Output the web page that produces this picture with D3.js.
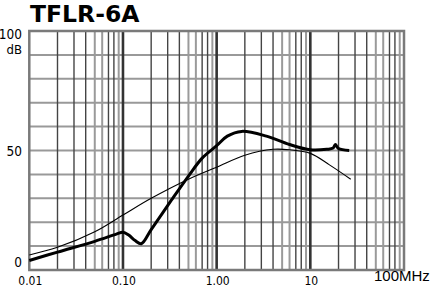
<!DOCTYPE html>
<html>
<head>
<meta charset="utf-8">
<script src="https://cdn.jsdelivr.net/npm/d3@7"></script>
<style>
  body { margin: 0; background: #fff; }
  svg { display: block; }
</style>
</head>
<body>
<div id="chart"></div>
<script>
// values (MHz, dB)
const thickFreq = [0.01, 0.02, 0.05, 0.085, 0.1, 0.115, 0.135, 0.157, 0.2, 0.33, 0.5, 0.7, 1.0, 1.3, 1.85, 3.4, 6, 10, 15, 17.5, 18.5, 20, 26];
const thickDb   = [4, 7.5, 12, 15, 15.8, 14.6, 12.3, 11, 16.9, 29.3, 39.3, 46.8, 52, 56, 58, 56, 52.5, 50.3, 50.5, 51, 52.5, 50.8, 50];

const thinFreq = [0.01, 0.02, 0.05, 0.1, 0.2, 0.5, 1, 2, 4, 6, 10, 16, 27];
const thinDb   = [6.3, 9.5, 16, 23, 30, 38, 43, 48, 50.5, 50.3, 48.8, 44, 38];

const xTickLabels = ["0.01", "0.10", "1.00", "10"];
const xTickValues = [0.01, 0.1, 1, 10];
const yTickValues = [0, 50, 100];

const W = 431, H = 287;
const margin = { top: 31, right: 27, bottom: 17, left: 29.3 };

const svg = d3.select("#chart").append("svg")
    .attr("width", W)
    .attr("height", H);

const x = d3.scaleLog()
    .domain([0.01, 100])
    .range([margin.left, W - margin.right]);

const y = d3.scaleLinear()
    .domain([0, 100])
    .range([H - margin.bottom, margin.top]);

// title
svg.append("text")
    .attr("x", 30)
    .attr("y", 22)
    .attr("font-family", "DejaVu Sans, Verdana, sans-serif")
    .attr("font-weight", "bold")
    .attr("font-size", 23.5)
    .attr("fill", "#000")
    .text("TFLR-6A");

const grid = svg.append("g");

// horizontal grid every 10 dB
grid.selectAll(".hline")
    .data(d3.range(10, 100, 10))
    .enter().append("line")
    .attr("x1", x(0.01)).attr("x2", x(100))
    .attr("y1", d => y(d)).attr("y2", d => y(d))
    .attr("stroke", "#999")
    .attr("stroke-width", 2);

// minor vertical lines
const minor = [];
[0.01, 0.1, 1, 10].forEach(dec => {
    for (let k = 2; k <= 9; k++) minor.push({ v: dec * k, k: k });
});
const isGray = k => k === 5 || k === 6 || k === 9;
grid.selectAll(".minor")
    .data(minor)
    .enter().append("line")
    .attr("x1", d => x(d.v)).attr("x2", d => x(d.v))
    .attr("y1", y(0)).attr("y2", y(100))
    .attr("stroke", d => isGray(d.k) ? "#9a9a9a" : "#444")
    .attr("stroke-width", d => isGray(d.k) ? 2 : 1.4);

// decade lines
grid.selectAll(".decade")
    .data([0.1, 1, 10])
    .enter().append("line")
    .attr("x1", d => x(d)).attr("x2", d => x(d))
    .attr("y1", y(0)).attr("y2", y(100))
    .attr("stroke", "#333")
    .attr("stroke-width", 2.6);

// frame
grid.append("rect")
    .attr("x", x(0.01)).attr("y", y(100))
    .attr("width", x(100) - x(0.01))
    .attr("height", y(0) - y(100))
    .attr("fill", "none")
    .attr("stroke", "#7a7a7a")
    .attr("stroke-width", 2.5);

// curves
const line = d3.line()
    .x(d => x(d[0]))
    .y(d => y(d[1]))
    .curve(d3.curveCatmullRom.alpha(0.5));

svg.append("path")
    .datum(d3.zip(thinFreq, thinDb))
    .attr("d", line)
    .attr("fill", "none")
    .attr("stroke", "#000")
    .attr("stroke-width", 1.1);

svg.append("path")
    .datum(d3.zip(thickFreq, thickDb))
    .attr("d", line)
    .attr("fill", "none")
    .attr("stroke", "#000")
    .attr("stroke-width", 3)
    .attr("stroke-linejoin", "round");

// y labels
const yOffset = { 0: -8, 50: 1, 100: 3 };
svg.selectAll(".ylab")
    .data(yTickValues)
    .enter().append("text")
    .attr("x", 22)
    .attr("y", d => y(d) + yOffset[d])
    .attr("dy", "0.35em")
    .attr("text-anchor", "end")
    .attr("font-family", "DejaVu Sans Condensed, DejaVu Sans, sans-serif")
    .attr("font-size", 13.5)
    .attr("fill", "#000")
    .text(d => d);

svg.append("text")
    .attr("x", 22)
    .attr("y", y(100) + 18.5)
    .attr("dy", "0.35em")
    .attr("text-anchor", "end")
    .attr("font-family", "DejaVu Sans Condensed, DejaVu Sans, sans-serif")
    .attr("font-size", 13)
    .attr("fill", "#000")
    .text("dB");

// x labels
svg.selectAll(".xlab")
    .data(xTickValues)
    .enter().append("text")
    .attr("x", d => x(d) + 1)
    .attr("y", 285)
    .attr("text-anchor", "middle")
    .attr("font-family", "Liberation Sans Narrow, DejaVu Sans Condensed, sans-serif")
    .attr("font-size", 12)
    .attr("fill", "#000")
    .text((d, i) => xTickLabels[i]);

svg.append("text")
    .attr("x", 374)
    .attr("y", 281)
    .attr("font-family", "Liberation Sans, Arial, sans-serif")
    .attr("font-size", 15)
    .attr("fill", "#000")
    .text("100MHz");
</script>
</body>
</html>
